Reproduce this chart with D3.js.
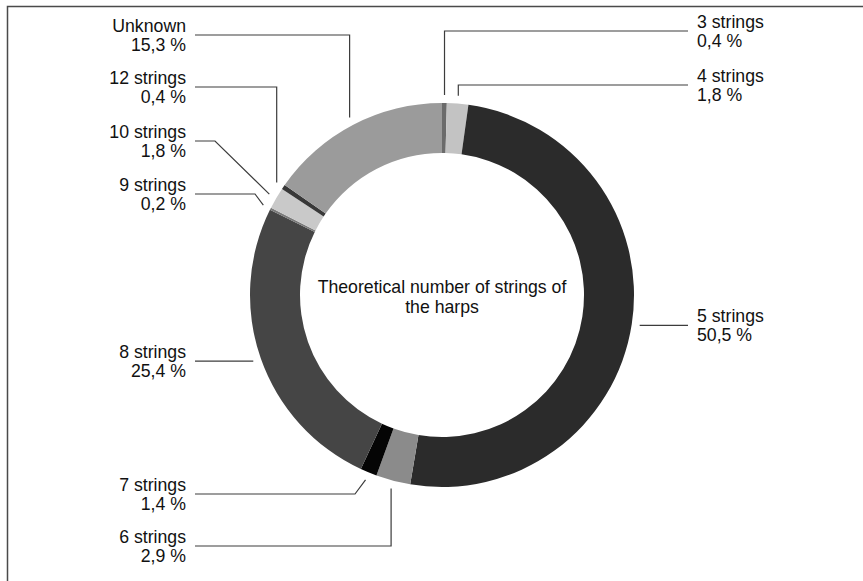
<!DOCTYPE html>
<html>
<head>
<meta charset="utf-8">
<script src="https://cdn.jsdelivr.net/npm/d3@7"></script>
<style>
  html, body { margin: 0; padding: 0; background: #fff; }
  svg { display: block; }
  text { font-family: "Liberation Sans", Arial, Helvetica, sans-serif; fill: #111; }
</style>
</head>
<body>
<svg id="chart" width="863" height="581"></svg>
<script>
// ---- data ----
const categories = ["3 strings", "4 strings", "5 strings", "6 strings", "7 strings",
                    "8 strings", "9 strings", "10 strings", "12 strings", "Unknown"];
const values = [0.4, 1.8, 50.5, 2.9, 1.4, 25.4, 0.2, 1.8, 0.4, 15.3];
const valueLabels = ["0,4 %", "1,8 %", "50,5 %", "2,9 %", "1,4 %", "25,4 %", "0,2 %", "1,8 %", "0,4 %", "15,3 %"];
const fills = ["#6b6b6b", "#c3c3c3", "#2b2b2b", "#8b8b8b", "#050505",
               "#454545", "#7a7a7a", "#c9c9c9", "#383838", "#9b9b9b"];
const centerTitle = ["Theoretical number of strings of", "the harps"];

// ---- layout ----
const W = 863, H = 581;
const cx = 442, cy = 295, R = 192, r = 142, leadR = 200;
// label layout: side, leader line y (null = use the point's y), leader kind
const labelLayout = [
  {side: "right", y: 31,  kind: "vertical"},
  {side: "right", y: 85,  kind: "vertical"},
  {side: "right", y: null, kind: "straight"},
  {side: "left",  y: 546, kind: "vertical"},
  {side: "left",  y: 494, kind: "bend", bx: 355},
  {side: "left",  y: null, kind: "straight"},
  {side: "left",  y: 194, kind: "bend", bx: 255},
  {side: "left",  y: 141, kind: "bend", bx: 215},
  {side: "left",  y: 87,  kind: "vertical"},
  {side: "left",  y: 35,  kind: "vertical"}
];
const leftTextX = 186, leftLineX = 195, rightTextX = 697, rightLineX = 688;
const fontSize = 17.7;

const svg = d3.select("#chart");

// frame (cropped on right/bottom like the reference)
svg.append("rect")
  .attr("x", 7.5).attr("y", 6.5).attr("width", 900).attr("height", 700)
  .attr("fill", "none").attr("stroke", "#4a4a4a").attr("stroke-width", 1.5);

const pie = d3.pie().sort(null).value(d => d)(values);
const arc = d3.arc().innerRadius(r).outerRadius(R);

const g = svg.append("g").attr("transform", `translate(${cx},${cy})`);
g.selectAll("path.slice").data(pie).join("path")
  .attr("class", "slice")
  .attr("d", arc)
  .attr("fill", (d, i) => fills[i]);

// leader lines & labels
const lines = svg.append("g").attr("fill", "none").attr("stroke", "#3c3c3c").attr("stroke-width", 1.2);
pie.forEach((d, i) => {
  const a = (d.startAngle + d.endAngle) / 2;
  const px = cx + leadR * Math.sin(a);
  const py = cy - leadR * Math.cos(a);
  const L = labelLayout[i];
  const ly = L.y == null ? py : L.y;
  const endX = L.side === "left" ? leftLineX : rightLineX;
  let pts;
  if (L.kind === "vertical") pts = [[endX, ly], [px, ly], [px, py]];
  else if (L.kind === "bend") pts = [[endX, ly], [L.bx, ly], [px, py]];
  else pts = [[endX, ly], [px, ly]];
  lines.append("path").attr("d", d3.line()(pts));

  const tx = L.side === "left" ? leftTextX : rightTextX;
  const t = svg.append("text")
    .attr("font-size", fontSize)
    .attr("text-anchor", L.side === "left" ? "end" : "start")
    .attr("x", tx);
  t.append("tspan").attr("x", tx).attr("y", ly - 3.5).text(categories[i]);
  t.append("tspan").attr("x", tx).attr("y", ly + 15.5).text(valueLabels[i]);
});

// center title
const ct = svg.append("text").attr("text-anchor", "middle").attr("font-size", fontSize);
centerTitle.forEach((s, k) => {
  ct.append("tspan").attr("x", cx).attr("y", 293 + k * 19.5).text(s);
});
</script>
</body>
</html>
